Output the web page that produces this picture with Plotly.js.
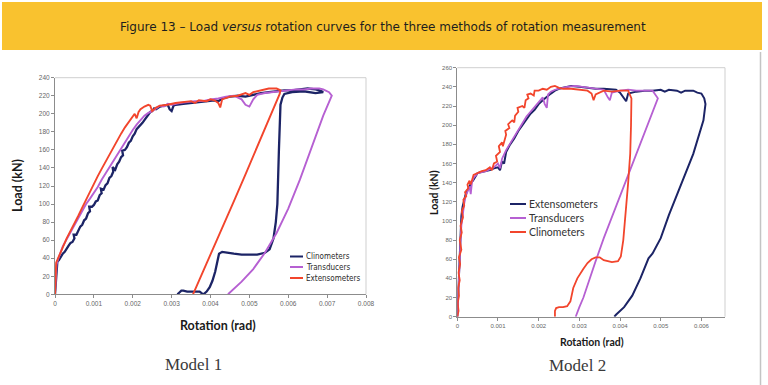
<!DOCTYPE html>
<html>
<head>
<meta charset="utf-8">
<script src="https://cdn.plot.ly/plotly-3.0.1.min.js"></script>
<style>
  html, body { margin: 0; padding: 0; background: #ffffff; }
  #chart { width: 768px; height: 385px; }
</style>
</head>
<body>
<div id="chart"></div>
<script>
// ---------- Model 1 (rotation in rad, load in kN) ----------
const m1Names = ["Clinometers", "Transducers", "Extensometers"];

const m1ClinoX = [0,0.00002,0.00004,0.00006,0.0001,0.00015,0.0002,0.00025,0.0003,0.00035,0.0004,0.00045,0.0005,0.00048,0.00055,0.0006,0.00065,0.0007,0.00075,0.0008,0.00085,0.0009,0.00088,0.00095,0.001,0.00105,0.0011,0.00115,0.0012,0.00118,0.00125,0.0013,0.00135,0.0014,0.00145,0.0015,0.00148,0.00155,0.0016,0.00165,0.0017,0.00175,0.00173,0.0018,0.00185,0.0019,0.00195,0.002,0.00205,0.0021,0.00215,0.0022,0.00225,0.0023,0.00235,0.0024,0.00245,0.0025,0.00255,0.0026,0.0027,0.0028,0.0029,0.00295,0.003,0.00305,0.0031,0.0033,0.0035,0.0037,0.0039,0.0041,0.0042,0.0043,0.0045,0.0047,0.0049,0.0051,0.0053,0.0055,0.0057,0.0059,0.0061,0.0063,0.0065,0.0067,0.0068,0.0069,0.0067,0.0064,0.0061,0.0059,
  0.00585,0.0058,0.00578,0.00576,0.00574,0.00572,0.00568,0.00562,0.00552,0.0054,0.0052,0.005,0.0048,0.0046,0.0044,0.0043,0.00422,0.00418,0.00412,0.00405,0.00398,0.0039,0.00382,0.00378,0.00372,0.0036,0.0034,0.0033,0.00325,0.0032,0.00315];
const m1ClinoY = [0,15,30,36,38,42,45,47,51,54,57,58,62,66,66,70,75,77,82,84,90,92,97,97,99,103,104,110,112,117,116,121,123,129,131,136,141,138,144,147,152,154,159,160,163,168,170,175,178,183,185,188,190,193,196,198,202,203,206,205,208,209,210,205,203,209,210,211,212,213,214,215,214,217,219,220,219,221,223,224,225,226,226,227,228,227,226,224,223,225,224,222,
  218,210,190,160,130,100,80,62,50,46,44,44,44,45,46,47,45,36,25,15,8,3,0,1,3,3,3,4,4,2,0];

const m1TransX = [0,0.00002,0.00004,0.00008,0.00015,0.0002,0.0003,0.0004,0.0005,0.0006,0.0007,0.0008,0.0009,0.001,0.0011,0.0012,0.0013,0.0014,0.0015,0.0016,0.0017,0.0018,0.0019,0.002,0.0021,0.0022,0.0023,0.0024,0.0025,0.0026,0.0027,0.0028,0.0029,0.003,0.0032,0.0034,0.0036,0.0038,0.004,0.0042,0.0044,0.0046,0.0048,0.0049,0.005,0.0051,0.0052,0.0054,0.0056,0.0058,0.006,0.0062,0.0064,0.0066,0.0068,0.0069,0.00705,0.00712,
  0.0069,0.0066,0.0063,0.006,0.0057,0.0054,0.0051,0.0048,0.0046,0.00445];
const m1TransY = [0,18,33,39,47,53,61,69,76,84,92,100,106,112,119,127,134,141,148,155,162,169,176,182,188,193,198,201,203,206,209,208,211,210,212,213,214,214,216,217,219,220,216,210,208,216,221,223,224,225,226,227,227,228,228,227,224,220,
  198,163,127,95,68,46,28,14,6,0];

const m1ExtX = [0,0.00001,0.00003,0.00008,0.00015,0.0002,0.0003,0.0004,0.0005,0.0006,0.0007,0.0008,0.0009,0.001,0.0011,0.0012,0.0013,0.0014,0.0015,0.0016,0.0017,0.0018,0.0019,0.002,0.00205,0.0021,0.00215,0.0022,0.0023,0.0024,0.00245,0.0025,0.0026,0.0027,0.0029,0.0031,0.0033,0.0035,0.0036,0.0037,0.0039,0.004,0.0041,0.0042,0.00425,0.0043,0.0045,0.0047,0.0049,0.005,0.0051,0.0053,0.0055,0.0057,0.0058,
  0.00578,0.0055,0.0052,0.0049,0.0046,0.0043,0.004,0.0038,0.0036,0.00355];
const m1ExtY = [0,20,35,40,46,52,62,70,78,87,96,105,114,123,131,139,147,155,163,170,178,185,191,196,200,195,202,205,208,210,209,203,207,209,210,212,213,214,212,215,214,216,215,212,207,216,219,220,223,221,224,226,228,228,226,
  222,193,163,133,103,73,43,24,5,0];

// ---------- Model 2 ----------
const m2Names = ["Extensometers", "Transducers", "Clinometers"];

const m2ExtX = [0,0.00002,0.00004,0.00006,0.00008,0.0001,0.00013,0.00016,0.0002,0.00025,0.0003,0.00035,0.0004,0.00045,0.0005,0.0006,0.0007,0.0008,0.0009,0.001,0.00105,0.0011,0.00115,0.0012,0.0013,0.0014,0.0015,0.0016,0.0017,0.0018,0.0019,0.002,0.0021,0.0022,0.0023,0.0024,0.0025,0.0026,0.0027,0.0028,0.003,0.0032,0.0034,0.0036,0.0038,0.0039,0.004,0.0041,0.00415,0.0042,0.0044,0.0046,0.0048,0.005,0.0051,0.0052,0.0054,0.0055,0.0056,0.0058,0.0059,0.006,0.00607,0.0061,
  0.00605,0.0058,0.0055,0.0052,0.005,0.0048,0.0047,0.0045,0.0043,0.0041,0.0039,0.00386];
const m2ExtY = [0,20,50,75,95,105,115,122,127,132,137,140,143,147,150,151,152,153,155,156,153,162,160,172,180,186,194,200,207,212,216,222,226,230,233,236,238,239,240,241,240,239,238,238,237,237,234,228,225,233,235,236,236,237,235,237,236,234,236,236,234,233,228,222,
  205,170,138,106,82,66,61,40,22,10,2,0];

const m2TransX = [0,0.00002,0.00005,0.00008,0.0001,0.00013,0.00017,0.0002,0.00025,0.0003,0.00033,0.00036,0.0004,0.0005,0.0006,0.0007,0.0008,0.0009,0.001,0.00105,0.0011,0.0012,0.0013,0.0014,0.0015,0.0016,0.0017,0.0018,0.0019,0.002,0.0021,0.00215,0.0022,0.00223,0.0023,0.0024,0.0025,0.0026,0.0027,0.0029,0.0031,0.0033,0.0035,0.0036,0.0037,0.00375,0.0038,0.004,0.0042,0.0044,0.0046,0.0048,0.00493,
  0.0047,0.0045,0.0042,0.0039,0.0036,0.0034,0.0032,0.0031,0.003,0.00293,0.00291];
const m2TransY = [0,25,55,80,95,108,118,125,130,136,128,140,145,150,151,152,154,156,160,155,165,174,181,188,196,203,209,214,219,224,229,222,218,232,235,237,238,239,240,241,240,239,238,237,229,226,234,236,237,236,236,236,228,
  203,181,148,115,82,58,32,20,10,3,0];

const m2ClinoX = [0,0.00003,0.00001,0.00004,0.00002,0.00006,0.00003,0.00007,0.00004,0.0001,0.00006,0.00011,0.00008,0.00014,0.00011,0.00017,0.00015,0.00022,0.00019,0.00027,0.00025,0.0003,0.00033,0.0004,0.0005,0.0006,0.0007,0.0008,0.00085,0.0009,0.00098,0.00095,0.00105,0.00102,0.0011,0.00112,0.0012,0.00118,0.00128,0.00125,0.00135,0.0014,0.00142,0.0015,0.00148,0.0016,0.00165,0.00168,0.00175,0.00172,0.0018,0.00188,0.0019,0.002,0.0021,0.0022,0.0023,0.0024,0.0025,0.0026,0.0028,0.003,0.0032,0.0033,0.00335,0.0034,0.0036,0.0038,0.004,0.0042,0.00425,0.00428,
  0.00427,0.00425,0.0042,0.00414,0.00408,0.00402,0.00395,0.0038,0.0036,0.0035,0.0034,0.0033,0.0032,0.0031,0.00295,0.00285,0.00278,0.0027,0.0026,0.0025,0.00243,0.0024,0.0024];
const m2ClinoY = [0,6,14,22,30,38,46,55,62,70,80,88,95,104,110,116,122,126,130,134,138,142,138,148,150,152,153,156,153,160,162,168,172,178,182,178,190,194,197,201,205,203,210,214,218,220,218,226,228,232,233,231,236,236,238,237,240,241,239,238,238,237,236,233,226,232,236,235,236,236,232,228,
  200,170,140,105,80,63,58,57,59,62,62,60,56,50,40,30,16,11,10,10,9,6,0];

// tick labels
const m1TickVals = [0,0.001,0.002,0.003,0.004,0.005,0.006,0.007,0.008];
const m1TickText = ["0","0.001","0.002","0.003","0.004","0.005","0.006","0.007","0.008"];
const m1YTicks = [0,20,40,60,80,100,120,140,160,180,200,220,240];
const m2TickVals = [0,0.001,0.002,0.003,0.004,0.005,0.006];
const m2TickText = ["0","0.001","0.002","0.003","0.004","0.005","0.006"];
const m2YTicks = [0,20,40,60,80,100,120,140,160,180,200,220,240,260];

// ---------- drawing ----------
const W = 768, H = 385;
const px = v => v / W;
const py = v => 1 - v / H;

const NAVY = "#1c2466", PURPLE = "#b660d2", RED = "#f2452c";

const traces = [
  {x: m1ClinoX, y: m1ClinoY, name: m1Names[0], line: {color: NAVY, width: 2.3}},
  {x: m1TransX, y: m1TransY, name: m1Names[1], line: {color: PURPLE, width: 1.9}},
  {x: m1ExtX,   y: m1ExtY,   name: m1Names[2], line: {color: RED, width: 1.9}},
  {x: m2ExtX,   y: m2ExtY,   name: m2Names[0], line: {color: NAVY, width: 2}, xaxis: "x2", yaxis: "y2"},
  {x: m2TransX, y: m2TransY, name: m2Names[1], line: {color: PURPLE, width: 1.8}, xaxis: "x2", yaxis: "y2"},
  {x: m2ClinoX, y: m2ClinoY, name: m2Names[2], line: {color: RED, width: 1.8}, xaxis: "x2", yaxis: "y2"}
].map(t => Object.assign({type: "scatter", mode: "lines", showlegend: false, hoverinfo: "skip"}, t));

const tickFont = {family: "Liberation Sans, Arial, sans-serif", size: 6.5, color: "#666"};
const axisBase = {
  showgrid: false, zeroline: false, showline: true, linecolor: "#8c8c8c", linewidth: 1,
  ticks: "outside", ticklen: 3, tickcolor: "#8c8c8c", tickfont: tickFont, fixedrange: true
};

// plot areas in pixels
const L1 = {x0: 55, x1: 366, y0: 77.7, y1: 294.3};
const L2 = {x0: 457.3, x1: 725, y0: 67.7, y1: 316.7};

const layout = {
  width: W, height: H, autosize: false,
  margin: {l: 0, r: 0, t: 0, b: 0},
  paper_bgcolor: "#ffffff", plot_bgcolor: "#ffffff",
  xaxis: Object.assign({}, axisBase, {domain: [px(L1.x0), px(L1.x1)], range: [0, 0.008],
    tickmode: "array", tickvals: m1TickVals, ticktext: m1TickText, anchor: "y"}),
  yaxis: Object.assign({}, axisBase, {domain: [py(L1.y1), py(L1.y0)], range: [0, 240],
    tickmode: "array", tickvals: m1YTicks, anchor: "x"}),
  xaxis2: Object.assign({}, axisBase, {domain: [px(L2.x0), px(L2.x1)], range: [0, 0.00658],
    tickmode: "array", tickvals: m2TickVals, ticktext: m2TickText, anchor: "y2",
    tickfont: Object.assign({}, tickFont, {size: 6})}),
  yaxis2: Object.assign({}, axisBase, {domain: [py(L2.y1), py(L2.y0)], range: [0, 260],
    tickmode: "array", tickvals: m2YTicks, anchor: "x2",
    tickfont: Object.assign({}, tickFont, {size: 6})}),
  shapes: [],
  annotations: []
};

// header banner
layout.shapes.push({type: "rect", xref: "paper", yref: "paper", layer: "below",
  x0: px(2), x1: px(762), y0: py(50), y1: py(2), fillcolor: "#f9c22f", line: {width: 0}});
// right-hand page border
layout.shapes.push({type: "line", xref: "paper", yref: "paper",
  x0: px(760.5), x1: px(760.5), y0: py(52), y1: py(385), line: {color: "#c4c4c4", width: 1.5}});
// plot frames (top and right edges)
[L1, L2].forEach(b => {
  layout.shapes.push({type: "line", xref: "paper", yref: "paper",
    x0: px(b.x0), x1: px(b.x1), y0: py(b.y0), y1: py(b.y0), line: {color: "#cfcfcf", width: 1}});
  layout.shapes.push({type: "line", xref: "paper", yref: "paper",
    x0: px(b.x1), x1: px(b.x1), y0: py(b.y0), y1: py(b.y1), line: {color: "#cfcfcf", width: 1}});
});

const ann = (text, x, y, font, extra) => layout.annotations.push(Object.assign({
  text, xref: "paper", yref: "paper", x: px(x), y: py(y), showarrow: false,
  xanchor: "center", yanchor: "middle", font}, extra || {}));

ann("Figure 13 – Load <i>versus</i> rotation curves for the three methods of rotation measurement",
  383, 27, {family: "DejaVu Sans, sans-serif", size: 12, color: "#1e1e1e"});

const titleFont = s => ({family: "Lato, Open Sans, sans-serif", size: s, color: "#1a1a1a", weight: "bold"});
ann("<b>Load (kN)</b>", 18, 186, titleFont(12.5), {textangle: -90});
ann("<b>Rotation (rad)</b>", 218, 325, titleFont(12.5));
ann("<b>Load (kN)</b>", 434, 193, titleFont(10.5), {textangle: -90});
ann("<b>Rotation (rad)</b>", 592, 342, titleFont(10.5));

const serif = {family: "Liberation Serif, Times New Roman, serif", size: 17, color: "#3a3a3a"};
ann("Model 1", 193, 364, serif);
ann("Model 2", 577, 365, serif);

// legends
function legend(names, colors, lx0, lx1, ys, font) {
  names.forEach((n, i) => {
    layout.shapes.push({type: "line", xref: "paper", yref: "paper",
      x0: px(lx0), x1: px(lx1), y0: py(ys[i]), y1: py(ys[i]), line: {color: colors[i], width: 2}});
    ann(n, lx1 + 0.5, ys[i], font, {xanchor: "left"});
  });
}
legend(m1Names, [NAVY, PURPLE, RED], 290, 303, [256.5, 267, 278],
  {family: "Liberation Sans Narrow, DejaVu Sans Condensed, Arial Narrow, sans-serif", size: 8, color: "#2a2a2a"});
legend(m2Names, [NAVY, PURPLE, RED], 510, 526, [204, 218, 232],
  {family: "Lato, Open Sans, sans-serif", size: 10.5, color: "#333333"});

Plotly.newPlot("chart", traces, layout, {staticPlot: true, displayModeBar: false});
</script>
</body>
</html>
